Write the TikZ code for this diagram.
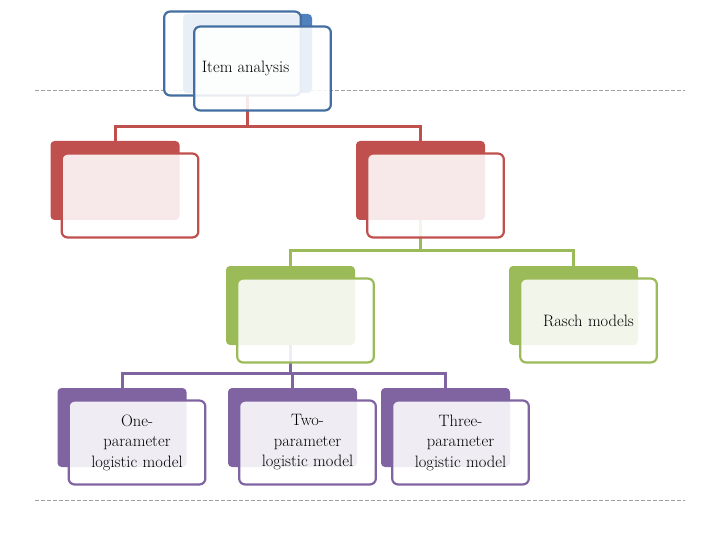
\documentclass[tikz,border=0pt]{standalone}
\usepackage{tikz}
\usetikzlibrary{positioning}
\definecolor{iablue}{HTML}{4F81BD}
\definecolor{iared}{HTML}{C0504D}
\definecolor{iagreen}{HTML}{9BBB59}
\definecolor{iapurple}{HTML}{8064A2}
\definecolor{rulegray}{HTML}{A0A0A0}
\begin{document}
\begin{tikzpicture}[
  x=1pt,y=-1pt,
  back box/.style={
    draw=none,
    rounded corners=4pt,
    minimum width=129pt,
    minimum height=79pt,
  },
  front box/.style={
    draw,
    line width=2.2pt,
    rounded corners=6pt,
    fill=white,
    fill opacity=.88,
    text opacity=1,
    minimum width=135pt,
    minimum height=84pt,
    text width=130pt,
    align=center,
    font=\fontsize{16.5}{20.5}\selectfont,
  },
  link/.style={
    line width=3pt,
  },
  slide rule/.style={
    rulegray,
    dashed,
    dash pattern=on 4pt off 2pt,
    line width=.7pt,
  },
]
\useasboundingbox (0,0) rectangle (720,540);
% slide rules
\draw[slide rule] (35,90) -- (685,90);
\draw[slide rule] (35,500) -- (685,500);
% back boxes
\node[back box,fill=iablue] (ia) at (247.5,53.5) {};
\node[back box,fill=iared] (ctt) at (115,180.5) {};
\node[back box,fill=iared] (ltm) at (420.5,180.5) {};
\node[back box,fill=iagreen] (irt) at (290.5,305.5) {};
\node[back box,fill=iagreen] (rasch) at (573.5,305.5) {};
\node[back box,fill=iapurple] (one) at (122,427.5) {};
\node[back box,fill=iapurple] (two) at (292.5,427.5) {};
\node[back box,fill=iapurple] (three) at (445.5,427.5) {};
% connectors
\draw[link,iared] (ia.south) |- (247.5,127) -| (ctt.north);
\draw[link,iared] (247.5,127) -| (ltm.north);
\draw[link,iagreen] (ltm.south) |- (420.5,250) -| (irt.north);
\draw[link,iagreen] (420.5,250) -| (rasch.north);
\draw[link,iapurple] (irt.south) |- (290.5,373) -| (one.north);
\draw[link,iapurple] (290.5,373) -| (two.north);
\draw[link,iapurple] (290.5,373) -| (three.north);
% front boxes
\node[front box,draw=iablue!85!black] (ia f) at ([shift={(-15,0)}]ia.center) {};
\node[front box,draw=iablue!85!black] (ia f) at ([shift={(15,15)}]ia.center) {};
\node[font=\fontsize{16.5}{20.5}\selectfont] (ia t) at ([shift={(-2,15)}]ia.center) {Item analysis};
\node[front box,draw=iared] (ctt f) at ([shift={(15,15)}]ctt.center) {};
\node[front box,draw=iared] (ltm f) at ([shift={(15,15)}]ltm.center) {};
\node[front box,draw=iagreen] (irt f) at ([shift={(15,15)}]irt.center) {};
\node[front box,draw=iagreen] (rasch f) at ([shift={(15,15)}]rasch.center) {Rasch models};
\node[front box,draw=iapurple] (one f) at ([shift={(15,15)}]one.center) {One-\\parameter\\logistic model};
\node[front box,draw=iapurple] (two f) at ([shift={(15,15)}]two.center) {Two-\\parameter\\logistic model};
\node[front box,draw=iapurple] (three f) at ([shift={(15,15)}]three.center) {Three-\\parameter\\logistic model};
\end{tikzpicture}
\end{document}
